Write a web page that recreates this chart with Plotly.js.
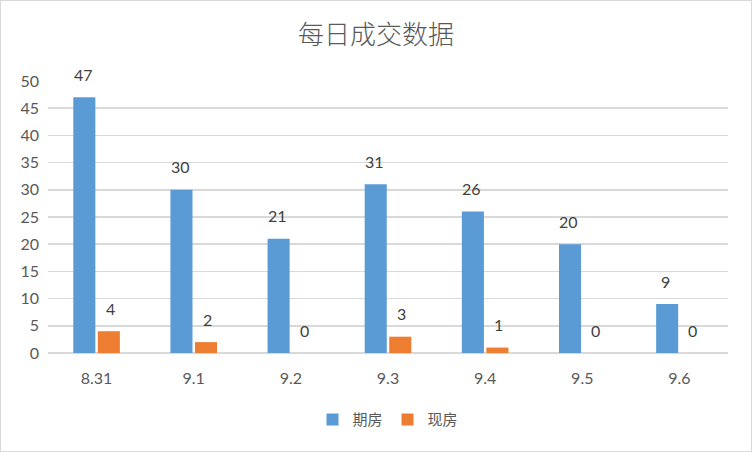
<!DOCTYPE html>
<html>
<head>
<meta charset="utf-8">
<script src="https://cdn.plot.ly/plotly-3.0.1.min.js"></script>
<style>
  body { margin: 0; background: #fff; }
  #chart { width: 750px; height: 450px; border: 1px solid #d9d9d9; }
</style>
</head>
<body>
<div id="chart"></div>
<script>
var dates = ["8.31", "9.1", "9.2", "9.3", "9.4", "9.5", "9.6"];
var futures = [47, 30, 21, 31, 26, 20, 9];   // 期房
var existing = [4, 2, 0, 3, 1, 0, 0];        // 现房

var fontFamily = "Lato, 'Noto Sans CJK SC', sans-serif";

var traces = [
  {
    type: "bar",
    name: "期房",
    x: dates,
    y: futures,
    marker: { color: "#5b9bd5" },
    hoverinfo: "x+y"
  },
  {
    type: "bar",
    name: "现房",
    x: dates,
    y: existing,
    marker: { color: "#ed7d31" },
    hoverinfo: "x+y"
  }
];

// value labels sit well above each bar, like the Excel original.
// category axis with numeric-looking names -> place by category index
var annotations = [];
dates.forEach(function (d, i) {
  [[futures[i], -13.5], [existing[i], 13.5]].forEach(function (p) {
    annotations.push({
      x: i, y: p[0], xref: "x", yref: "y",
      text: String(p[0]), showarrow: false,
      xshift: p[1], yshift: 23, yanchor: "middle",
      font: { family: fontFamily, size: 16, color: "#404040" }
    });
  });
});

var layout = {
  width: 750,
  height: 450,
  margin: { l: 47, r: 23, t: 80, b: 98 },
  paper_bgcolor: "#fff",
  plot_bgcolor: "#fff",
  title: {
    text: "每日成交数据",
    x: 0.5, xanchor: "center",
    y: 1 - 34 / 450, yanchor: "middle",
    font: { family: "'Noto Sans CJK SC', sans-serif", size: 26, weight: 300, color: "#595959" }
  },
  barmode: "group",
  bargap: 0.495,
  bargroupgap: 0.1,
  xaxis: {
    type: "category",
    range: [-0.5, dates.length - 0.5],
    showgrid: false,
    showline: false,
    ticks: "",
    tickfont: { family: fontFamily, size: 16, color: "#595959" },
    ticklabelstandoff: 14
  },
  yaxis: {
    range: [0, 50],
    dtick: 5,
    showgrid: true,
    gridcolor: "#d9d9d9",
    gridwidth: 1.5,
    zeroline: true,
    zerolinecolor: "#d9d9d9",
    zerolinewidth: 1.5,
    showline: false,
    ticks: "",
    tickfont: { family: fontFamily, size: 16, color: "#595959" },
    ticklabelstandoff: 8
  },
  legend: {
    orientation: "h",
    x: 0.5, xanchor: "center",
    y: -0.245, yanchor: "middle",
    font: { family: "'Noto Sans CJK SC', sans-serif", size: 15, color: "#595959" }
  },
  annotations: annotations
};

Plotly.newPlot("chart", traces, layout, { displayModeBar: false, staticPlot: true });
</script>
</body>
</html>
